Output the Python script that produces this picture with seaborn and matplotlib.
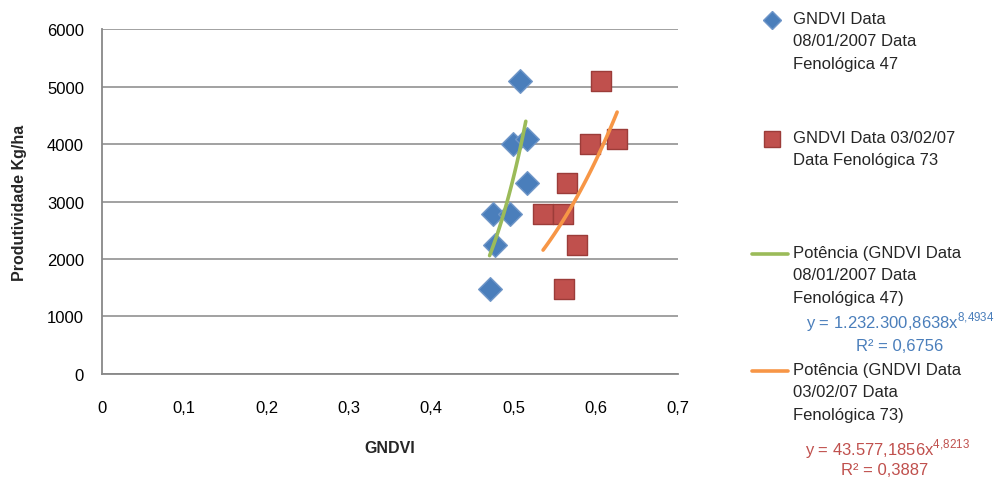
import numpy as np
import pandas as pd
import matplotlib
matplotlib.use("Agg")
import matplotlib.pyplot as plt
from matplotlib.lines import Line2D
import seaborn as sns

# GNDVI readings for the two dates, same productivity plots
gndvi_47 = [0.508, 0.500, 0.516, 0.517, 0.475, 0.496, 0.478, 0.471]
gndvi_73 = [0.606, 0.593, 0.626, 0.565, 0.536, 0.560, 0.577, 0.562]
produtividade = [5100, 4000, 4080, 3320, 2780, 2780, 2250, 1480]

# power trendline coefficients (y = a * x^b) as printed on the chart
a_47, b_47 = 1232300.8638, 8.4934
a_73, b_73 = 43577.1856, 4.8213

x_ticks = [0, 0.1, 0.2, 0.3, 0.4, 0.5, 0.6, 0.7]
x_tick_labels = ["0", "0,1", "0,2", "0,3", "0,4", "0,5", "0,6", "0,7"]
y_ticks = [0, 1000, 2000, 3000, 4000, 5000, 6000]

blue, red = "#4A7EBB", "#C0504D"
green, orange = "#9BBB59", "#F79646"
grey = "#888888"

sns.set_style("white")
plt.rcParams["font.family"] = ["Liberation Sans", "DejaVu Sans"]
plt.rcParams["mathtext.fontset"] = "custom"
plt.rcParams["mathtext.rm"] = "Liberation Sans"

df47 = pd.DataFrame({"x": gndvi_47, "y": produtividade})
df73 = pd.DataFrame({"x": gndvi_73, "y": produtividade})

xs47 = np.linspace(min(gndvi_47), max(gndvi_47) - 0.002, 60)
xs73 = np.linspace(min(gndvi_73), max(gndvi_73), 60)
fit47 = pd.DataFrame({"x": xs47, "y": a_47 * xs47 ** b_47})
fit73 = pd.DataFrame({"x": xs73, "y": a_73 * xs73 ** b_73})

fig = plt.figure(figsize=(10.03, 4.81), dpi=100)
ax = fig.add_axes([0.1017, 0.2204, 0.5743, 0.7172])

ax.yaxis.grid(True, color=grey, linewidth=1.1)
ax.set_axisbelow(True)

sns.scatterplot(data=df47, x="x", y="y", marker="D", s=145, color=blue,
                edgecolor="#6F96C8", linewidth=1, ax=ax, zorder=3)
sns.scatterplot(data=df73, x="x", y="y", marker="s", s=215, color=red,
                edgecolor="#9C3C39", linewidth=1, ax=ax, zorder=3)
sns.lineplot(data=fit47, x="x", y="y", color=green, linewidth=2.6, ax=ax, zorder=4)
sns.lineplot(data=fit73, x="x", y="y", color=orange, linewidth=2.6, ax=ax, zorder=4)

ax.set_xlim(0, 0.7)
ax.set_ylim(0, 6000)
ax.set_xticks(x_ticks)
ax.set_xticklabels(x_tick_labels)
ax.set_yticks(y_ticks)
ax.tick_params(axis="both", colors=grey, labelcolor="black", labelsize=12,
               length=4, width=1, direction="out")
ax.tick_params(axis="x", pad=15)
ax.tick_params(axis="y", pad=9)
for side in ["top", "right"]:
    ax.spines[side].set_visible(False)
for side in ["left", "bottom"]:
    ax.spines[side].set_color(grey)
    ax.spines[side].set_linewidth(1.3)

ax.set_xlabel("GNDVI", fontsize=11.5, fontweight="bold")
ax.set_ylabel("Produtividade Kg/ha", fontsize=11.5, fontweight="bold")
ax.xaxis.set_label_coords(0.5, -0.19)
ax.yaxis.set_label_coords(-0.13, 0.5)

# legend, drawn by hand to keep Excel's spacing
W, H = 1003, 481
def fx(px):
    return px / W
def fy(py):
    return 1 - py / H

fig.add_artist(Line2D([fx(772)], [fy(21)], marker="D", markersize=9, color=blue,
                      markeredgecolor="#6F96C8", transform=fig.transFigure))
fig.add_artist(Line2D([fx(772)], [fy(140)], marker="s", markersize=11, color=red,
                      markeredgecolor="#9C3C39", transform=fig.transFigure))
fig.add_artist(Line2D([fx(752), fx(788)], [fy(255), fy(255)], color=green,
                      linewidth=2.6, transform=fig.transFigure))
fig.add_artist(Line2D([fx(752), fx(788)], [fy(372), fy(372)], color=orange,
                      linewidth=2.6, transform=fig.transFigure))

labels = [
    (12, "GNDVI Data\n08/01/2007 Data\nFenológica 47"),
    (131, "GNDVI Data 03/02/07\nData Fenológica 73"),
    (246, "Potência (GNDVI Data\n08/01/2007 Data\nFenológica 47)"),
    (363, "Potência (GNDVI Data\n03/02/07 Data\nFenológica 73)"),
]
for top, txt in labels:
    fig.text(fx(793), fy(top), txt, fontsize=12, va="top", ha="left",
             linespacing=1.62)

fig.text(fx(900), fy(322), r"y = 1.232.300,8638x$^{8{,}4934}$", fontsize=12,
         color=blue, ha="center", va="center")
fig.text(fx(900), fy(347), "R² = 0,6756", fontsize=12, color=blue,
         ha="center", va="center")
fig.text(fx(887), fy(449), r"y = 43.577,1856x$^{4{,}8213}$", fontsize=12,
         color=red, ha="center", va="center")
fig.text(fx(885), fy(471), "R² = 0,3887", fontsize=12, color=red,
         ha="center", va="center")

fig.savefig("out.png", dpi=100)
